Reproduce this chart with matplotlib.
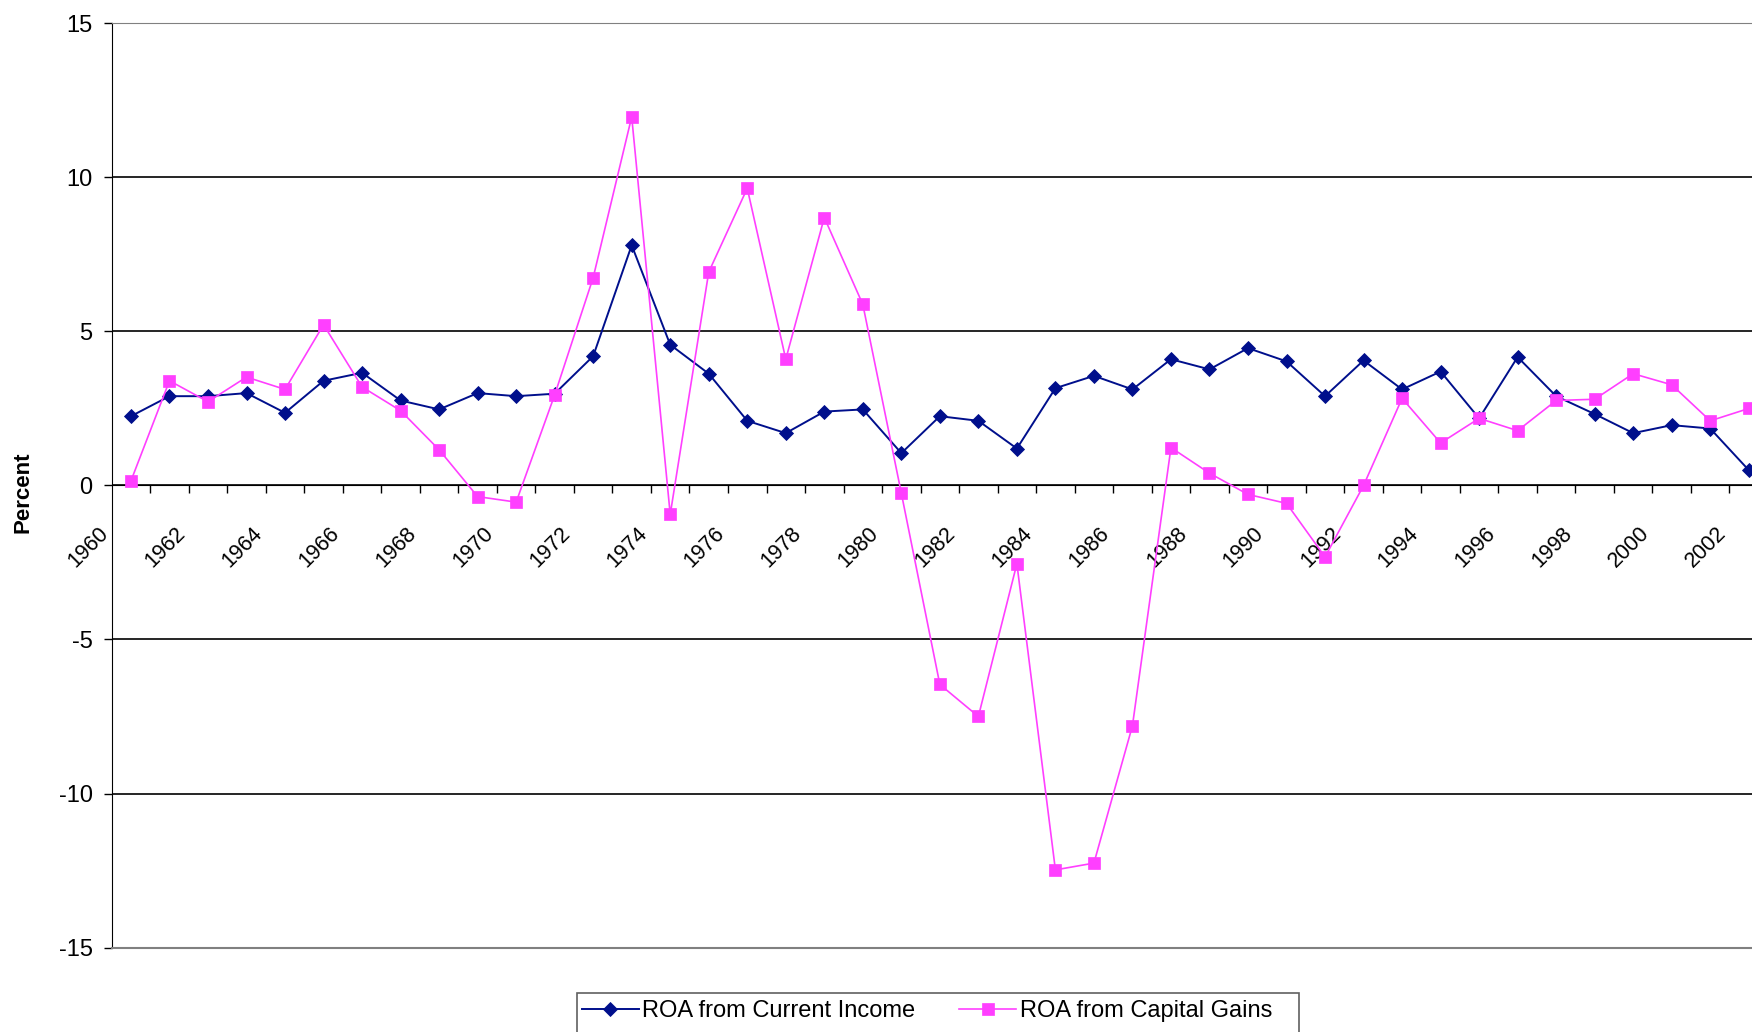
import numpy as np
import matplotlib.pyplot as plt
from matplotlib.transforms import ScaledTranslation
from matplotlib.patches import Rectangle

years = list(range(1960, 2003))
roa_income = [2.25, 2.9, 2.9, 3.0, 2.36, 3.4, 3.66, 2.76, 2.47, 3.0,
              2.9, 2.98, 4.2, 7.8, 4.57, 3.63, 2.1, 1.7, 2.4, 2.47,
              1.05, 2.25, 2.1, 1.2, 3.16, 3.56, 3.12, 4.1, 3.77, 4.46,
              4.03, 2.9, 4.06, 3.12, 3.7, 2.18, 4.17, 2.9, 2.32, 1.7,
              1.96, 1.85, 0.5]
roa_gains = [0.15, 3.4, 2.72, 3.52, 3.12, 5.22, 3.2, 2.43, 1.16, -0.36,
             -0.54, 2.94, 6.75, 11.97, -0.94, 6.93, 9.65, 4.1, 8.7, 5.88,
             -0.25, -6.46, -7.5, -2.54, -12.48, -12.26, -7.8, 1.23, 0.4, -0.29,
             -0.58, -2.32, 0.0, 2.83, 1.38, 2.18, 1.78, 2.76, 2.8, 3.63,
             3.27, 2.1, 2.5]
yticks = [-15, -10, -5, 0, 5, 10, 15]
ytick_labels = ['-15', '-10', '-5', '0', '5', '10', '15']

plt.rcParams['font.family'] = ['Liberation Sans', 'DejaVu Sans']

W, H = 1752, 1032
fig = plt.figure(figsize=(W / 100, H / 100), dpi=100)
# plot area runs past the right edge, as in the original
ax = fig.add_axes([111.7 / W, 1 - 947.5 / H, (1768 - 111.7) / W, 924 / H])

x = np.arange(len(years))
ax.plot(x, roa_income, color='#000F8C', lw=1.4, marker='D', ms=7.3, mew=0.6,
        label='ROA from Current Income', zorder=3)
ax.plot(x, roa_gains, color='#FF3FFF', lw=1.2, marker='s', ms=8.3, mew=0.5,
        label='ROA from Capital Gains', zorder=4)

ax.set_xlim(-0.5, len(years) - 0.5)
ax.set_ylim(-15, 15)

ax.spines['right'].set_visible(False)
ax.spines['top'].set_color('#808080')
ax.spines['left'].set_color('black')
ax.spines['bottom'].set_position(('data', 0))
ax.spines['bottom'].set_color('black')

ax.yaxis.grid(True, color='black', lw=1.2, zorder=1)
ax.axhline(-15, color='#808080', lw=1.5, zorder=2.6, clip_on=False)

ax.set_yticks(yticks, labels=ytick_labels)
ax.tick_params(axis='y', direction='out', length=5.8, width=1, pad=8, labelsize=17)

# ticks between categories, labels every other year
bounds = np.arange(0.5, len(years) - 1, 1.0)
ax.set_xticks(bounds, labels=[''] * len(bounds))
ax.tick_params(axis='x', which='major', direction='out', length=6, width=1, color='black')
ax.set_xticks(x[::2], minor=True)
ax.set_xticklabels([str(y) for y in years[::2]], minor=True, rotation=45,
                   ha='right', va='baseline', rotation_mode='anchor', fontsize=15.5)
ax.tick_params(axis='x', which='minor', length=0, pad=35)
shift = ScaledTranslation(-22 / 100, 0, fig.dpi_scale_trans)
for lbl in ax.get_xticklabels(minor=True):
    lbl.set_transform(lbl.get_transform() + shift)

fig.text(23 / W, 1 - 492 / H, 'Percent', rotation=90, fontsize=16,
         fontweight='bold', ha='center', va='center')

ax.legend(loc='upper left', bbox_to_anchor=(582 / W, 1 - 1000 / H),
          bbox_transform=fig.transFigure, ncol=2, frameon=False, fontsize=17,
          handlelength=2.4, handletextpad=0.16, columnspacing=1.86,
          borderpad=0, borderaxespad=0)
fig.add_artist(Rectangle((577 / W, -0.05), (1299 - 577) / W, 0.05 + 1 - 993 / H,
                         transform=fig.transFigure, fill=False,
                         edgecolor='#606060', lw=1.2))

fig.savefig('out.png', dpi=100)
